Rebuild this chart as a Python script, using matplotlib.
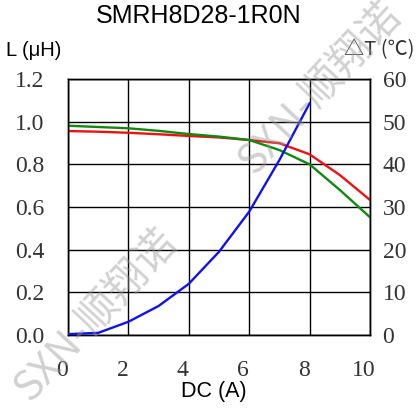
import matplotlib
matplotlib.use("Agg")
import matplotlib.pyplot as plt
import matplotlib.transforms as mtransforms

# ---- data ----
title = "SMRH8D28-1R0N"
current_L = [0, 1, 2, 3, 4, 5, 6, 7, 8, 9, 10]
L_red = [0.956, 0.953, 0.948, 0.941, 0.933, 0.926, 0.914, 0.899, 0.847, 0.75, 0.633]
L_green = [0.981, 0.975, 0.969, 0.957, 0.942, 0.930, 0.914, 0.867, 0.800, 0.68, 0.552]
current_T = [0, 1, 2, 3, 4, 5, 6, 7, 8]
temp_rise = [0.2, 0.5, 3.1, 6.8, 12.0, 19.5, 28.9, 41.0, 54.3]
x_ticks = [0, 2, 4, 6, 8, 10]
x_labels = ["0", "2", "4", "6", "8", "10"]
L_ticks = [0.0, 0.2, 0.4, 0.6, 0.8, 1.0, 1.2]
L_labels = ["0.0", "0.2", "0.4", "0.6", "0.8", "1.0", "1.2"]
T_ticks = [0, 10, 20, 30, 40, 50, 60]
T_labels = ["0", "10", "20", "30", "40", "50", "60"]
watermark = "SXN-顺翔诺"

W, H = 416, 412
fig = plt.figure(figsize=(W / 100, H / 100), dpi=100)
ax = fig.add_axes([68 / W, 77 / H, 302 / W, 256 / H])
ax2 = ax.twinx()

ax.set_xlim(0, 10)
ax.set_ylim(0, 1.2)
ax2.set_ylim(0, 60)

ax.set_xticks(x_ticks)
ax.set_xticklabels(x_labels)
ax.set_yticks(L_ticks)
ax.set_yticklabels(L_labels)
ax2.set_yticks(T_ticks)
ax2.set_yticklabels(T_labels)

serif = "Liberation Serif"
tick_color = "#333333"
ax.tick_params(axis="x", length=0, pad=18, labelsize=17, labelcolor=tick_color)
ax.tick_params(axis="y", length=0, pad=17, labelsize=17, labelcolor=tick_color)
ax2.tick_params(axis="y", length=0, pad=9, labelsize=17, labelcolor=tick_color)
for lab in ax.get_xticklabels() + ax.get_yticklabels() + ax2.get_yticklabels():
    lab.set_fontfamily(serif)

offset = mtransforms.ScaledTranslation(-6 / 100, 0, fig.dpi_scale_trans)
for lab in ax.get_xticklabels():
    lab.set_transform(lab.get_transform() + offset)

ax.grid(True, color="black", linewidth=1.0)
ax.set_axisbelow(True)
for sp in list(ax.spines.values()) + list(ax2.spines.values()):
    sp.set_color("black")
    sp.set_linewidth(1.0)

ax.plot(current_L, L_red, color="#ee1111", linewidth=1.7, zorder=3)
ax.plot(current_L, L_green, color="#118811", linewidth=1.7, zorder=3)
ax2.plot(current_T, temp_rise, color="#1111ee", linewidth=1.7, zorder=3)

sans = "Liberation Sans"
fig.text(199 / W, 1 - 16 / H, title, ha="center", va="center", fontsize=18,
         fontfamily=sans, color="black")
fig.text(6 / W, 1 - 50 / H, "L (μH)", ha="left", va="center", fontsize=14.5,
         fontfamily=sans, color="black")
fig.text(414 / W, 1 - 50 / H, "△T (℃)", ha="right", va="center", fontsize=14.5,
         fontfamily=["Noto Sans CJK SC", "DejaVu Sans"], color="#333333")
fig.text(214 / W, 1 - 392 / H, "DC (A)", ha="center", va="center", fontsize=15.5,
         fontfamily=sans, color="black")

for cx, cy in [(319, 88), (95, 315)]:
    fig.text(cx / W, 1 - cy / H, watermark, ha="center", va="center", rotation=47,
             rotation_mode="anchor", fontsize=30,
             fontfamily=["Noto Sans CJK SC", "DejaVu Sans"],
             color="#999999", alpha=0.45, zorder=10)

fig.savefig("out.png", dpi=100)
